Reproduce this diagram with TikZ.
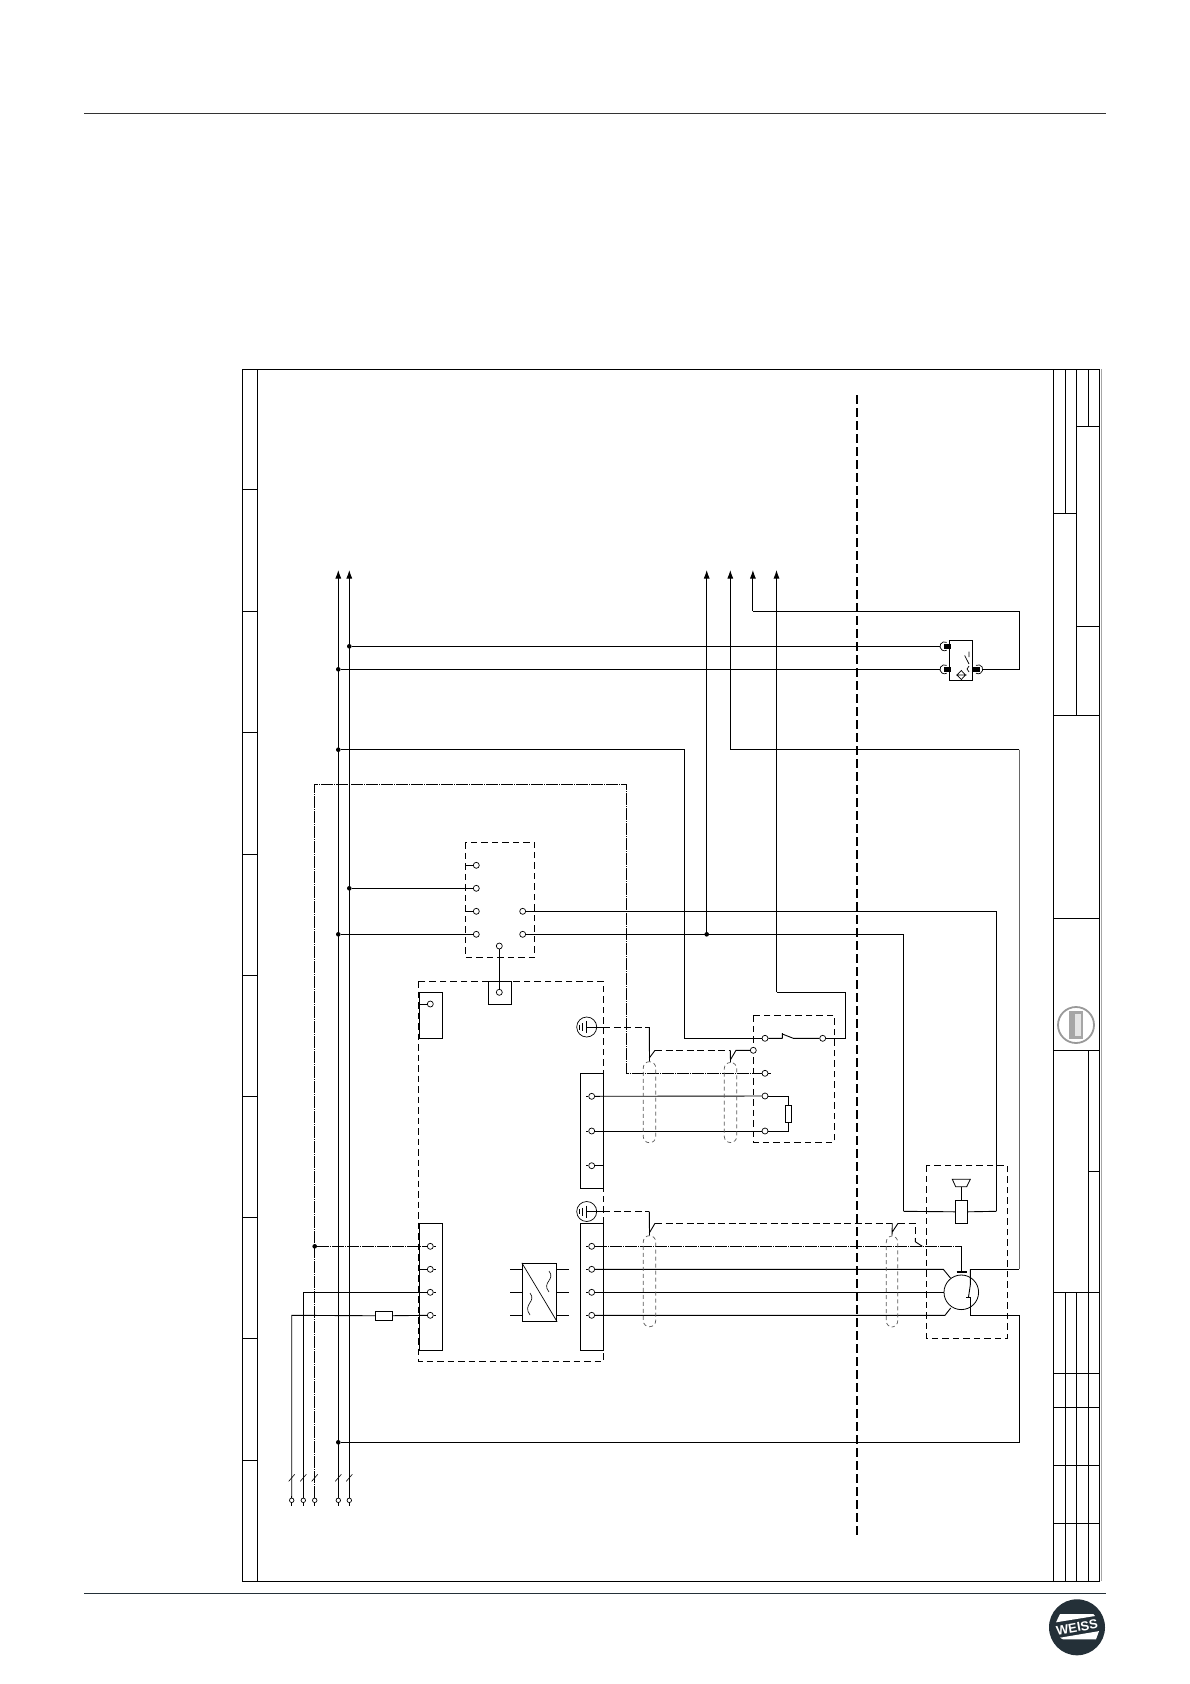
\documentclass[tikz,border=0pt]{standalone}
\usepackage{fontspec}
\setmainfont{Liberation Sans}
\usetikzlibrary{positioning,arrows.meta}

\definecolor{weissdark}{HTML}{243038}
\tikzset{
  wire/.style={line width=.9pt},
  frameline/.style={line width=.9pt},
  pilot/.style={line width=.9pt, dash pattern=on 12pt off 1pt on 1pt off 1pt},
  screen/.style={line width=.9pt, dash pattern=on 7pt off 3.5pt},
  housing/.style={draw, line width=.9pt, dash pattern=on 6.5pt off 4pt},
  shield/.style={draw=black!65, line width=.7pt, dash pattern=on 4pt off 3pt, rounded corners=6pt},
  contact/.style={circle, draw, fill=white, line width=.7pt, minimum size=6pt, inner sep=0pt},
  dot/.style={circle, fill, minimum size=4.6pt, inner sep=0pt},
  block/.style={draw, line width=.9pt, inner sep=0pt},
  earth/.style={circle, draw, line width=.7pt, minimum size=20pt, inner sep=0pt},
  pin/.style={fill, minimum width=7pt, minimum height=5pt, inner sep=0pt},
  bus/.style={wire, -{Latex[length=8.5pt,width=6pt]}},
  node distance=23pt, on grid,
}

\begin{document}
\begin{tikzpicture}[x=1pt, y=-1pt]
  \useasboundingbox (0,0) rectangle (1190,1684);

  % page rules
  \draw[line width=.8pt, black!80] (84,113.3) -- (1105.7,113.3);
  \draw[line width=.8pt, weissdark] (84,1593.3) -- (1105.7,1593.3);

  % drawing frame
  \draw[black!35, line width=1pt] (1101,369) -- (1101,1581);
  \draw[frameline] (242.7,369.3) rectangle (1099.7,1581);
  \draw[frameline] (257.7,369.3) -- (257.7,1581);
  \foreach \y in {489.7,611,732.5,854,975,1096.6,1217,1338,1460.6}
    \draw[frameline] (242.7,\y) -- (257.7,\y);
  \draw[frameline] (1053.3,369.3) -- (1053.3,1581);
  \draw[frameline] (1076.3,369.3) -- (1076.3,715.3);
  \draw[frameline] (1065.3,369.3) -- (1065.3,513.3);
  \draw[frameline] (1088.3,369.3) -- (1088.3,426.3);
  \draw[frameline] (1076.3,426.3) -- (1099.7,426.3);
  \draw[frameline] (1053.3,513.3) -- (1076.3,513.3);
  \draw[frameline] (1076.3,626.3) -- (1099.7,626.3);
  \draw[frameline] (1053.3,715.3) -- (1099.7,715.3);
  \draw[frameline] (1053.3,918) -- (1099.7,918);
  \draw[frameline] (1053.3,1050.5) -- (1099.7,1050.5);
  \draw[frameline] (1088.3,1050.5) -- (1088.3,1581);
  \draw[frameline] (1088.3,1171.5) -- (1099.7,1171.5);
  \draw[frameline] (1053.3,1292.4) -- (1099.7,1292.4);
  \draw[frameline] (1065.3,1292.4) -- (1065.3,1581);
  \draw[frameline] (1076.3,1292.4) -- (1076.3,1581);
  \foreach \y in {1373,1407,1465.5,1523}
    \draw[frameline] (1053.3,\y) -- (1099.7,\y);

  % machine limit
  \coordinate (limittop) at (857,395);
  \coordinate (limitbottom) at (857,1535);
  \draw[line width=1.4pt, dash pattern=on 9pt off 4pt] (limittop) -- (limitbottom);

  % housings
  \draw[housing] (465.3,842.3) rectangle (534.7,957.3);
  \draw[housing] (418.3,981) rectangle (603.3,1361.3);
  \draw[housing] (753.3,1015.3) rectangle (834.3,1142.3);
  \draw[housing] (926.3,1165.3) rectangle (1007.3,1338.3);

  % plug blocks
  \node[block, fill=white, minimum width=23pt, minimum height=23.3pt] (feedback) at (499.8,992.6) {};
  \node[block, minimum width=23pt, minimum height=46pt] (encoder) at (430.8,1015.3) {};
  \node[block, minimum width=23pt, minimum height=115pt] (signalplug) at (591.8,1130.8) {};
  \node[block, minimum width=23pt, minimum height=127pt] (motorplug) at (591.8,1286.8) {};
  \node[block, minimum width=23pt, minimum height=127pt] (mainsplug) at (430.8,1286.8) {};
  \node[block, minimum width=34.4pt, minimum height=58pt] (converter) at (539.5,1292.3) {};
  \draw[line width=.7pt] (converter.north west) -- (converter.south east);
  \draw[line width=.6pt] (549,1271) .. controls (556,1280) and (541,1282) .. (549,1292);
  \draw[line width=.6pt] (530,1293) .. controls (537,1302) and (522,1304) .. (530,1315);

  % relay contacts
  \node[contact] (relayA) at (476.3,865.3) {};
  \node[contact, below=of relayA] (relayB) {};
  \node[contact, below=of relayB] (relayC) {};
  \node[contact, below=of relayC] (relayD) {};
  \node[contact] (relayE) at (522.7,911.3) {};
  \node[contact, below=of relayE] (relayF) {};
  \node[contact] (relayG) at (499.3,946) {};
  \node[contact] (feedbackpin) at (499.3,992.3) {};
  \node[contact] (encoderpin) at (430.3,1004) {};

  % signal plug
  \node[contact] (sigA) at (591.7,1096.3) {};
  \node[contact, below=34.7pt of sigA] (sigB) {};
  \node[contact, below=34.7pt of sigB] (sigC) {};

  % motor plug and mains plug
  \node[contact] (motA) at (591.7,1246.3) {};
  \node[contact, below=of motA] (motB) {};
  \node[contact, below=of motB] (motC) {};
  \node[contact, below=of motC] (motD) {};
  \node[contact] (netA) at (430.3,1246.3) {};
  \node[contact, below=of netA] (netB) {};
  \node[contact, below=of netB] (netC) {};
  \node[contact, below=of netC] (netD) {};

  % thermal box
  \node[contact] (thermA) at (765,1038.3) {};
  \node[contact] (thermB) at (822.7,1038.3) {};
  \node[contact] (thermC) at (753.3,1050.3) {};
  \node[contact] (thermD) at (765,1073.3) {};
  \node[contact] (thermE) at (765,1096) {};
  \node[contact] (thermF) at (765,1131) {};

  % earth terminals
  \node[earth] (earthA) at (586.7,1027) {};
  \node[earth] (earthB) at (586.7,1211.5) {};
  \foreach \e in {earthA,earthB} {
    \draw[line width=.7pt] (\e.center) ++(0,-6) -- ++(0,12);
    \draw[line width=.7pt] (\e.center) ++(-4,-4) -- ++(0,8);
    \draw[line width=.7pt] (\e.center) ++(-7,-2.5) -- ++(0,5);
    \draw[wire] (\e.center) -- ++(16.6,0);
  }

  % incoming feed
  \node[contact, minimum size=4.5pt] (feedA) at (291.7,1500.3) {};
  \node[contact, minimum size=4.5pt] (feedB) at (303.3,1500.3) {};
  \node[contact, minimum size=4.5pt] (feedC) at (314.7,1500.3) {};
  \node[contact, minimum size=4.5pt] (feedD) at (338.3,1500.3) {};
  \node[contact, minimum size=4.5pt] (feedE) at (349.3,1500.3) {};
  \foreach \f in {feedA,feedB,feedC,feedD,feedE} {
    \draw[wire] (\f) -- ++(0,-4);
    \draw[wire] (\f.south) -- ++(0,3);
    \draw[line width=.6pt] (\f) ++(-3,-19) -- ++(6,-7);
  }
  \node[block, fill=white, minimum width=17.4pt, minimum height=9pt] (fuse) at (384,1315.8) {};

  % bus arrows
  \coordinate (busD) at (338.3,570);
  \coordinate (busE) at (349.3,570);
  \coordinate (outA) at (706.7,570);
  \coordinate (outB) at (730.3,570);
  \coordinate (outC) at (752.9,570);
  \coordinate (outD) at (776.5,570);
  \draw[bus] (feedD) -- (busD);
  \draw[bus] (feedE) -- (busE);

  % junction dots
  \node[dot] (dotS) at (349.3,646.3) {};
  \node[dot] (dotR) at (338.3,669.3) {};
  \node[dot] (dotL) at (338.3,749.7) {};
  \node[dot] (dotB) at (349.3,888.3) {};
  \node[dot] (dotD) at (338.3,934.3) {};
  \node[dot] (dotO) at (706.7,934.3) {};
  \node[dot] (dotP) at (338.3,1442.3) {};
  \node[dot] (dotE) at (314.7,1246.3) {};

  % relay wiring
  \draw[wire] (dotB) -- (relayB);
  \draw[wire] (dotD) -- (relayD);
  \draw[wire] (465.3,865.3) -- (relayA);
  \draw[wire] (465.3,911.3) -- (relayC);
  \draw[wire] (relayG) -- (feedbackpin);
  \draw[wire] (418.3,1004) -- (encoderpin);
  \draw[bus] (dotO) -- (outA);

  % sensor
  \node[block, minimum width=23pt, minimum height=40pt] (sensor) at (960.8,660.3) {};
  \node[pin, anchor=east] (pinA) at (951,646.3) {};
  \node[pin, anchor=east] (pinB) at (951,669.3) {};
  \node[pin, anchor=west] (pinC) at (972.3,669.3) {};
  \coordinate (sockA) at (940,646.3);
  \coordinate (sockB) at (940,669.3);
  \coordinate (sockC) at (982.7,669.3);
  \draw[line width=.7pt] (946.7,642.4) arc (300:60:4.5);
  \draw[line width=.7pt] (946.7,665.4) arc (300:60:4.5);
  \draw[line width=.7pt] (976,665.4) arc (240:480:4.5);
  \draw[line width=.7pt] (964.7,655.5) -- (969,664) (969,651.5) -- (969,657) (969,666) -- (967,669) -- (969,672);
  \draw[line width=.7pt] (961.3,670.5) -- (965.5,675) -- (961.3,679.5) -- (957,675) -- cycle (956,675) -- (966.5,675);
  \draw[wire] (dotS) -- (sockA);
  \draw[wire] (dotR) -- (sockB);
  \draw[wire] (sockC) -- (1019.3,669.3) -- (1019.3,611.3) -- (752.9,611.3);
  \draw[bus] (752.9,611.3) -- (outC);

  % main wires
  \draw[wire] (dotL) -- (684.3,749.7) |- (thermA);
  \draw[wire] (thermA) -- (782.3,1038.3) (782.3,1033) -- (782.3,1038.3) (782.3,1034) -- (793.3,1038.3) -- (thermB);
  \draw[wire] (thermB) -- (845.7,1038.3) -- (845.7,992.3) -- (776.5,992.3);
  \draw[bus] (776.5,992.3) -- (outD);
  \draw[bus] (1019.3,749.7) -- (730.3,749.7) -- (outB);
  \draw[black!60, line width=1.4pt] (1019.3,749.7) -- (1019.3,1269.3);
  \draw[wire] (1019.3,1269.3) -- (970.3,1269.3);
  \draw[wire] (dotP) -- (1019.3,1442.3) -- (1019.3,1315) -- (970.3,1315);
  \draw[wire] (relayE) -- (996.3,911.3) -- (996.3,1211.3);
  \draw[wire] (relayF) -- (903.7,934.3) -- (903.7,1211.3);

  % pilot line
  \draw[pilot] (feedC) -- (314.7,784) -- (626.7,784) -- (626.7,1073.3) -- (thermD);
  \draw[wire] (thermD) -- ++(5.7,0);
  \draw[pilot] (dotE) -- (netA);

  % signal plug wiring
  \draw[wire] (sigA) -- (thermE);
  \draw[wire] (sigB) -- (thermF);
  \draw[wire] (sigC) -- (603.3,1165.7);
  \draw[wire] (thermE) -- (788.3,1096) -- (788.3,1131) -- (thermF);
  \node[block, fill=white, minimum width=6.4pt, minimum height=16.6pt] (heater) at (788.5,1114) {};
  \foreach \s in {sigA,sigB,sigC,motA,motB,motC,motD}
    \draw[wire] (\s) -- ++(-6,0);
  \foreach \n in {netA,netB,netC,netD}
    \draw[wire] (\n) -- ++(6,0);

  % mains wiring
  \draw[wire] (feedB) -- (303.3,1292.3) -- (netC);
  \draw[wire] (feedA) -- (291.7,1315.3) -- (fuse);
  \draw[wire] (fuse) -- (netD);
  \draw[wire] (418.3,1269.3) -- (netB);

  % converter stubs
  \foreach \y in {1269.3,1292.3,1315.3} {
    \draw[wire] (510,\y) -- (522.3,\y);
    \draw[wire] (556.7,\y) -- (568.7,\y);
  }

  % motor
  \node[circle, draw, line width=.8pt, minimum size=34.6pt, inner sep=0pt] (motor) at (961.3,1292.3) {};
  \coordinate (motU) at (950.7,1278.3);
  \coordinate (motW) at (950.7,1308);
  \draw[wire] (motB) -- (943.3,1269.3) -- (motU);
  \draw[wire] (motC) -- (motor.west);
  \draw[wire] (motD) -- (945,1315.3) -- (motW);
  \draw[pilot] (motA) -- (961.3,1246.3);
  \draw[wire] (961.3,1246.3) -- (961.3,1270.7);
  \draw[line width=2pt] (956.7,1272.3) -- (966.7,1272.3);
  \draw[wire] (970.3,1269.3) -- (970.3,1285) -- (968.5,1297);
  \draw[wire] (966,1297) -- (970.3,1297) -- (970.3,1315);

  % brake with horn
  \node[block, fill=white, minimum width=12pt, minimum height=23pt] (brake) at (961.3,1211.8) {};
  \draw[wire] (903.7,1211.3) -- (brake.west);
  \draw[wire] (brake.east) -- (996.3,1211.3);
  \draw[line width=.8pt] (952.3,1179.3) -- (970.3,1179.3) -- (966.7,1186.7) -- (955.7,1186.7) -- cycle;
  \draw[wire] (961.3,1186.7) -- (brake.north);

  % shields
  \node[shield, minimum width=12.4pt, minimum height=81pt, inner sep=0pt] (shieldA) at (649.5,1102.2) {};
  \node[shield, minimum width=12.4pt, minimum height=80pt, inner sep=0pt] (shieldB) at (730.5,1102.5) {};
  \node[shield, minimum width=12.4pt, minimum height=91pt, inner sep=0pt] (shieldC) at (649.5,1281.2) {};
  \node[shield, minimum width=11.4pt, minimum height=91pt, inner sep=0pt] (shieldD) at (892,1281.5) {};

  % screen connections
  \draw[screen] (earthA.center) ++(16.6,0) -- (649.3,1027);
  \draw[wire] (649.3,1027) -- (shieldA.north);
  \draw[wire] (649.3,1058) -- (655,1050.3);
  \draw[screen] (655,1050.3) -- (730.3,1050.3);
  \draw[wire] (730.3,1050.3) -- (shieldB.north) (730.3,1060) -- (736,1050.3) -- (thermC);
  \draw[screen] (earthB.center) ++(16.6,0) -- (649.3,1211.5);
  \draw[wire] (649.3,1211.5) -- (shieldC.north) (649.3,1233) -- (655,1223.3);
  \draw[screen] (655,1223.3) -- (892.3,1223.3);
  \draw[wire] (892.3,1223.3) -- (shieldD.north) (892.3,1232) -- (898,1223.3);
  \draw[screen] (898,1223.3) -- (915.3,1223.3) -- (915.3,1238);
  \draw[wire] (915.3,1238) -- (915.3,1241.7) -- (922.3,1246.3);

  % logos
  \node[circle, draw=black!40, line width=1.8pt, minimum width=36pt, inner sep=0pt] (stamp) at (1076,1025) {};
  \node[fill=black!35, minimum width=14pt, minimum height=28pt, inner sep=0pt] (stampcore) at (1076,1025) {};
  \node[fill=black!10, minimum width=6pt, minimum height=22pt, inner sep=0pt] (stampmark) at (1078,1025) {};
  \node[circle, fill=weissdark, minimum size=56pt, inner sep=0pt] (weissdisc) at (1077,1627.3) {};
  \begin{scope}[shift={(weissdisc.center)}]
    \fill[white] (-17,-13.3) -- (16.3,-13.3) -- (18,-11.3) -- (-21,-5) -- cycle;
    \fill[white] (-17,10.4) -- (22,3.8) -- (19,12) -- (-14,12) -- cycle;
  \end{scope}
  \node[text=white, font=\bfseries\fontsize{13pt}{13pt}\selectfont, rotate=10, inner sep=0pt] (weissname) at (1077,1627.3) {WEISS};
\end{tikzpicture}
\end{document}
